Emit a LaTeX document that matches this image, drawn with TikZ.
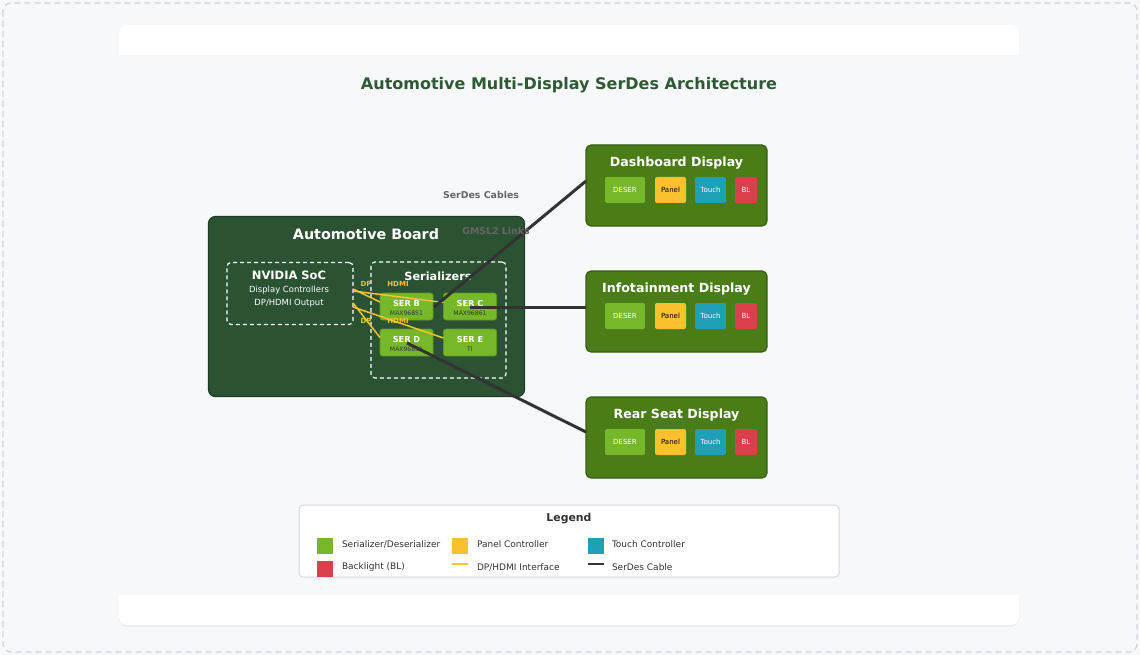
\documentclass[tikz,border=0pt]{standalone}
\usepackage{fontspec}
\setmainfont{DejaVu Sans}
\usetikzlibrary{shadows}
\definecolor{pagebg}{HTML}{F7F8FA}
\definecolor{dashgray}{HTML}{D0D5DD}
\definecolor{innerbg}{HTML}{F7F8FA}
\definecolor{titlegreen}{HTML}{2D5A34}
\definecolor{boardfill}{HTML}{2C5234}
\definecolor{boardline}{HTML}{1F3D25}
\definecolor{dispfill}{HTML}{4A7C17}
\definecolor{displine}{HTML}{355E12}
\definecolor{sergreen}{HTML}{76B82A}
\definecolor{serline}{HTML}{5E9A1E}
\definecolor{panelyel}{HTML}{FBC02D}
\definecolor{touchteal}{HTML}{20A0B6}
\definecolor{blred}{HTML}{DC3F4C}
\definecolor{cablegray}{HTML}{333333}
\definecolor{labgray}{HTML}{666666}
\definecolor{ifyel}{HTML}{F9C22E}
\definecolor{legline}{HTML}{D5D9DE}
\definecolor{txtdark}{HTML}{333333}
\newcommand\fsz[1]{\fontsize{#1}{#1}\selectfont}
\begin{document}
\begin{tikzpicture}[x=1pt,y=-1pt,
  every node/.style={inner sep=0pt,outer sep=0pt},
  dispbox/.style={draw=displine,line width=1.2pt,fill=dispfill,rounded corners=5pt,minimum width=181pt,minimum height=81pt},
  disptitle/.style={text=white,font=\fsz{12.6}\bfseries},
  blk/.style={rounded corners=2pt,minimum height=26pt,font=\fsz{7}},
  serbox/.style={draw=serline,line width=0.8pt,fill=sergreen,rounded corners=2.5pt,minimum width=53pt,minimum height=27pt},
  sertitle/.style={text=white,font=\fsz{8.2}\bfseries},
  sersub/.style={text=txtdark,font=\fsz{6.1}},
  dashbox/.style={draw=white,line width=1.2pt,dash pattern=on 4pt off 3pt,rounded corners=4pt},
  cable/.style={draw=cablegray,line width=3pt},
  iface/.style={draw=ifyel,line width=1.5pt},
  iflab/.style={text=ifyel,font=\fsz{7}\bfseries},
  cablab/.style={text=labgray,font=\fsz{9.4}\bfseries},
  legtxt/.style={text=txtdark,font=\fsz{9},anchor=west},
  legsq/.style={minimum width=16pt,minimum height=16pt}
]
\useasboundingbox (0,0) rectangle (1140,655);
\fill[pagebg] (0,0) rectangle (1140,655);
\draw[dashgray,line width=1.3pt,dash pattern=on 6pt off 4pt,rounded corners=8pt] (3,3) rectangle (1137,652);
% card
\fill[white,rounded corners=8pt,drop shadow={opacity=0.08,shadow xshift=0pt,shadow yshift=-2pt}] (119,25) rectangle (1019,625);
\fill[innerbg] (119,55) rectangle (1019,595);
\node[text=titlegreen,font=\fsz{16}\bfseries] (title) at (569,85.5) {Automotive Multi-Display SerDes Architecture};

% board
\node[draw=boardline,line width=1.2pt,fill=boardfill,rounded corners=7pt,minimum width=316pt,minimum height=180pt] (board) at (366.5,306.5) {};
\node[text=white,font=\fsz{14.3}\bfseries] (boardtitle) at (366,234.5) {Automotive Board};

\node[dashbox,minimum width=126pt,minimum height=62pt] (soc) at (290,293.5) {};
\node[text=white,font=\fsz{11.5}\bfseries] (soct) at (289,275.5) {NVIDIA SoC};
\node[text=white,font=\fsz{8.45}] (socl1) at (289,290.5) {Display Controllers};
\node[text=white,font=\fsz{8.45}] (socl2) at (289,303.5) {DP/HDMI Output};

\node[dashbox,minimum width=135pt,minimum height=116pt] (sers) at (438.5,320) {};
\node[text=white,font=\fsz{11.3}\bfseries] (serst) at (438,276.5) {Serializers};

\node[serbox] (serb) at (406.5,306.5) {};
\node[serbox] (serc) at (470,306.5) {};
\node[serbox] (serd) at (406.5,342.5) {};
\node[serbox] (sere) at (470,342.5) {};
\foreach \n/\t/\s in {serb/SER B/MAX96851,serc/SER C/MAX96861,serd/SER D/MAX96851,sere/SER E/TI}{
  \node[sertitle] (\n-t) at ([yshift=2.5pt]\n.center) {\t};
  \node[sersub] (\n-s) at ([yshift=-6.5pt]\n.center) {\s};
}

% interface lines
\coordinate (p1) at (353,289);
\coordinate (p2) at (353,291);
\coordinate (p3) at (353,303);
\coordinate (p4) at (353,307);
\draw[iface] (p1) -- ([yshift=4.5pt]serb.west);
\draw[iface] (p2) -- ([yshift=4pt]serc.west);
\draw[iface] (p3) -- ([yshift=5pt]serd.west);
\draw[iface] (p4) -- ([yshift=4.5pt]sere.west);
\node[iflab] (dp1) at (366,284) {DP};
\node[iflab] (hd1) at (398,284) {HDMI};
\node[iflab] (dp2) at (366,321) {DP};
\node[iflab] (hd2) at (398,321) {HDMI};

% displays
\foreach \n/\y/\t in {dash/185.5/Dashboard Display,info/311.5/Infotainment Display,rear/437.5/Rear Seat Display}{
  \node[dispbox] (\n) at (676.5,\y) {};
  \node[disptitle] (\n-t) at (676.5,\y-22.5) {\t};
  \node[blk,fill=sergreen,text=white,minimum width=40pt] (\n-deser) at (625,\y+4.5) {DESER};
  \node[blk,fill=panelyel,text=black,minimum width=31pt] (\n-panel) at (670.5,\y+4.5) {Panel};
  \node[blk,fill=touchteal,text=white,minimum width=31pt] (\n-touch) at (710.5,\y+4.5) {Touch};
  \node[blk,fill=blred,text=white,minimum width=22pt] (\n-bl) at (746,\y+4.5) {BL};
}

% cables
\coordinate (cb) at (434,307);
\coordinate (cc) at (470,307);
\coordinate (cd) at (407,343);
\draw[cable] (cb) -- ([yshift=4.5pt]dash.west);
\draw[cable] (cc) -- ([yshift=4.5pt]info.west);
\draw[cable] (cd) -- ([yshift=5.5pt]rear.west);
\node[cablab] (lab1) at (481,195) {SerDes Cables};
\node[cablab] (lab2) at (496,231) {GMSL2 Links};

% legend
\node[draw=legline,line width=1pt,fill=white,rounded corners=4pt,minimum width=540pt,minimum height=72pt] (legend) at (569,541) {};
\node[text=txtdark,font=\fsz{10.9}\bfseries] (legt) at (569,519) {Legend};
\node[legsq,fill=sergreen] (lg1) at (325,546) {};
\node[legtxt] (lt1) at (342,544.5) {Serializer/Deserializer};
\node[legsq,fill=panelyel] (lg2) at (460,546) {};
\node[legtxt] (lt2) at (477,544.5) {Panel Controller};
\node[legsq,fill=touchteal] (lg3) at (596,546) {};
\node[legtxt] (lt3) at (612,544.5) {Touch Controller};
\node[legsq,fill=blred] (lg4) at (325,569) {};
\node[legtxt] (lt4) at (342,567) {Backlight (BL)};
\coordinate (ly1) at (452,564);
\coordinate (ly2) at (468,564);
\draw[iface,line width=2pt] (ly1) -- (ly2);
\node[legtxt] (lt5) at (477,567) {DP/HDMI Interface};
\coordinate (lk1) at (588,564);
\coordinate (lk2) at (604,564);
\draw[cable,line width=2.5pt] (lk1) -- (lk2);
\node[legtxt] (lt6) at (612,567) {SerDes Cable};
\end{tikzpicture}
\end{document}
